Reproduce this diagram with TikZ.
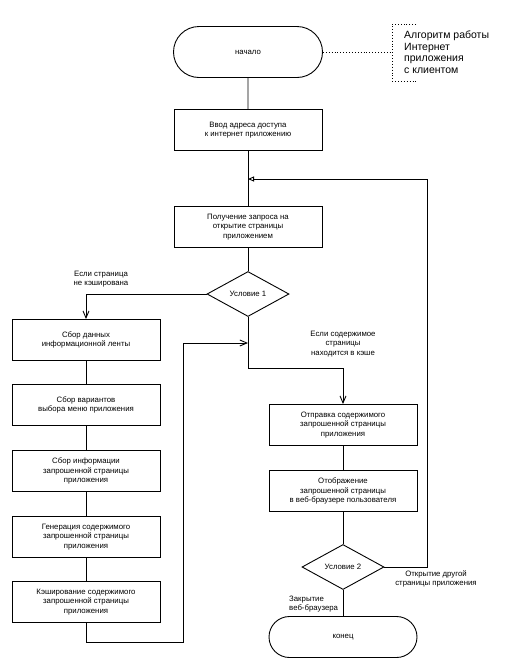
\documentclass[tikz,border=0pt]{standalone}
\usepackage{fontspec}
\setmainfont{Liberation Sans}
\usetikzlibrary{shapes.geometric,shapes.misc,arrows.meta}
\begin{document}
\begin{tikzpicture}[x=1pt,y=-1pt,
  every node/.style={font=\fontsize{7.8}{9.5}\selectfont, align=center, inner sep=0pt},
  procbox/.style={draw, line width=0.9pt, minimum width=148pt, minimum height=41pt},
  termbox/.style={draw, line width=0.9pt, rounded rectangle, minimum width=148pt, minimum height=41pt},
  condbox/.style={draw, line width=0.9pt, diamond, minimum width=82pt, minimum height=45pt},
  conn/.style={line width=0.9pt},
  arr/.style={conn, -{Straight Barb[length=7pt,width=6pt,open]}},
  arrtri/.style={conn, -{Triangle[open,length=6pt,width=5pt]}},
  lbl/.style={font=\fontsize{7.8}{9.5}\selectfont}
]
\useasboundingbox (0,0) rectangle (521,665);

% main column
\node[termbox, minimum height=51pt, minimum width=149pt] (start) at (248,52) {начало};
\node[procbox] (b1) at (248,130) {Ввод адреса доступа\\к интернет приложению};
\node[procbox] (b2) at (248,227) {Получение запроса на\\открытие страницы\\приложением};
\node[condbox] (d1) at (248,294) {Условие 1};

% left column
\node[procbox] (l1) at (86,340) {Сбор данных\\информационной ленты};
\node[procbox] (l2) at (86,405) {Сбор вариантов\\выбора меню приложения};
\node[procbox] (l3) at (86,471) {Сбор информации\\запрошенной страницы\\приложения};
\node[procbox] (l4) at (86,537) {Генерация содержимого\\запрошенной страницы\\приложения};
\node[procbox] (l5) at (86,602) {Кэширование содержимого\\запрошенной страницы\\приложения};

% right column
\node[procbox] (r1) at (343,425) {Отправка содержимого\\запрошенной страницы\\приложения};
\node[procbox] (r2) at (343,491) {Отображение\\запрошенной страницы\\в веб-браузере пользователя};
\node[condbox] (d2) at (343,567) {Условие 2};
\node[termbox] (end) at (343,637) {конец};

% annotation
\coordinate (a0) at (392,52);
\coordinate (a1) at (392,24);
\coordinate (a2) at (416,24);
\coordinate (a3) at (392,81);
\coordinate (a4) at (416,81);
\draw[conn, dotted] (start.east) -- (a0);
\draw[conn, dotted] (a2) -- (a1) -- (a3) -- (a4);
\node[anchor=west, align=left, font=\fontsize{10.5}{11.5}\selectfont] (note) at (404,52) {Алгоритм работы\\Интернет\\приложения\\с клиентом};

% joins
\coordinate (j1) at (248,179);
\coordinate (j2) at (248,343);
\coordinate (jr) at (427,179);
\coordinate (jl) at (183,343);
\coordinate (bl) at (183,642);
\coordinate (s1) at (248,368);

% connectors
\draw[conn] (start) -- (b1);
\draw[conn] (b1) -- (b2);
\draw[conn] (b2) -- (d1);
\draw[arr] (d1.west) -| (l1.north);
\draw[conn] (l1) -- (l2);
\draw[conn] (l2) -- (l3);
\draw[conn] (l3) -- (l4);
\draw[conn] (l4) -- (l5);
\draw[conn] (l5.south) |- (bl) -- (jl);
\draw[arr] (jl) -- (j2);
\draw[conn] (d1.south) -- (s1);
\draw[arr] (s1) -| (r1.north);
\draw[conn] (r1) -- (r2);
\draw[conn] (r2) -- (d2);
\draw[conn] (d2) -- (end);
\draw[conn] (d2.east) -| (jr);
\draw[arrtri] (jr) -- (j1);

% labels
\node[lbl] (t1) at (101,279) {Если страница\\не кэширована};
\node[lbl] (t2) at (343,344) {Если содержимое\\страницы\\находится в кэше};
\node[lbl] (t3) at (436,579) {Открытие другой\\страницы приложения};
\node[lbl, anchor=west, align=left] (t4) at (289,604) {Закрытие\\веб-браузера};
\end{tikzpicture}
\end{document}
